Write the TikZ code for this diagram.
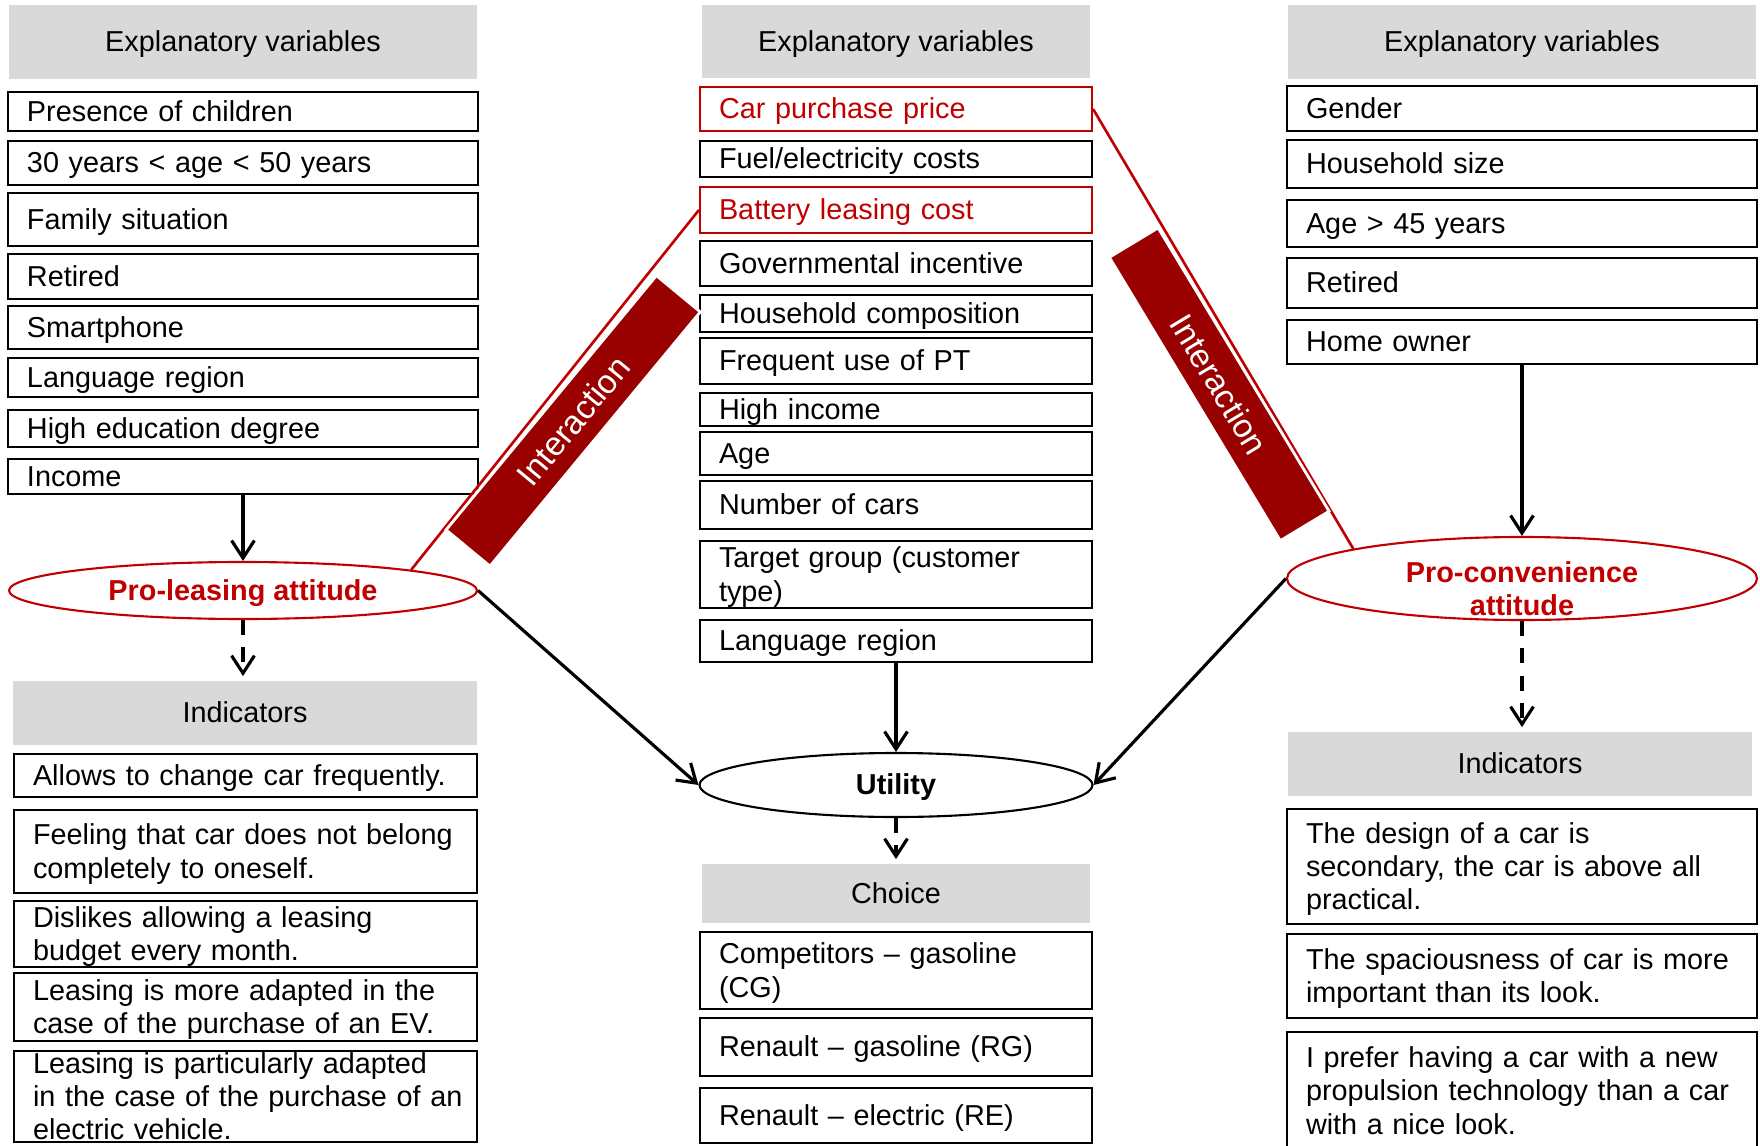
\documentclass[tikz,border=0pt]{standalone}
\usepackage{fontspec}
\setmainfont{Liberation Sans}
\usepackage{xcolor}
\definecolor{hdgray}{RGB}{217,217,217}
\definecolor{keyred}{RGB}{192,0,0}
\definecolor{barred}{RGB}{153,0,0}
\usetikzlibrary{arrows.meta,shapes.geometric}

\begin{document}
\begin{tikzpicture}[
  every node/.style={font=\fontsize{8.2}{9.4}\selectfont},
  strutted/.style={execute at begin node={\rule{0pt}{0.905em}}, execute at end node={\rule[-0.212em]{0pt}{0.212em}}},
  headbox/.style={fill=hdgray, inner sep=0pt, align=center, strutted},
  plainbox/.style={draw=black, line width=0.6pt, inner xsep=0.19cm, inner ysep=0pt, align=left},
  varbox/.style={plainbox, strutted},
  keybox/.style={varbox, draw=keyred, text=keyred},
  lcol/.style={text width=4.32cm},
  icol/.style={inner xsep=0.115cm, text width=4.40cm, execute at begin node={\leftskip=0.075cm}},
  mcol/.style={text width=3.54cm},
  rcol/.style={text width=4.32cm},
  attell/.style={ellipse, draw=keyred, line width=0.6pt, inner sep=0pt, text=keyred, font=\fontsize{8.2}{9.4}\selectfont\bfseries, strutted},
  utilell/.style={ellipse, draw=black, line width=0.6pt, inner sep=0pt, font=\fontsize{8.2}{9.4}\selectfont\bfseries, strutted},
  interbar/.style={fill=barred, draw=white, line width=0.8pt, text=white, inner sep=0pt, minimum height=0.57cm, font=\fontsize{9.5}{11}\selectfont},
  keyline/.style={keyred, line width=0.75pt},
  arr/.style={-{Straight Barb[length=5pt, width=6.5pt]}, line width=0.9pt},
  darr/.style={arr, dash pattern=on 4.2pt off 3.6pt, shorten >=1.2pt}
]
  \useasboundingbox (0,0) rectangle (17.6,-11.46);

  \node[headbox, minimum width=4.67cm, minimum height=0.74cm] (lhead) at (2.43,-0.42) {Explanatory variables};
  \node[varbox, lcol, minimum height=0.39cm] (l1) at (2.43,-1.115) {Presence of children};
  \node[varbox, lcol, minimum height=0.44cm] (l2) at (2.43,-1.63) {30 years < age < 50 years};
  \node[varbox, lcol, minimum height=0.53cm] (l3) at (2.43,-2.195) {Family situation};
  \node[varbox, lcol, minimum height=0.45cm] (l4) at (2.43,-2.765) {Retired};
  \node[varbox, lcol, minimum height=0.43cm] (l5) at (2.43,-3.275) {Smartphone};
  \node[varbox, lcol, minimum height=0.39cm] (l6) at (2.43,-3.775) {Language region};
  \node[varbox, lcol, minimum height=0.37cm] (l7) at (2.43,-4.285) {High education degree};
  \node[varbox, lcol, minimum height=0.35cm] (l8) at (2.43,-4.765) {Income};
  \node[attell, minimum width=4.68cm, minimum height=0.57cm] (pl) at (2.43,-5.905) {Pro-leasing attitude};
  \node[headbox, minimum width=4.64cm, minimum height=0.64cm] (lihead) at (2.45,-7.13) {Indicators};
  \node[varbox, icol, minimum height=0.43cm] (i1) at (2.455,-7.755) {Allows to change car frequently.};
  \node[varbox, icol, minimum height=0.83cm] (i2) at (2.455,-8.515) {Feeling that car does not belong\\completely to oneself.};
  \node[varbox, icol, minimum height=0.64cm] (i3) at (2.455,-9.34) {Dislikes allowing a leasing\\budget every month.};
  \node[varbox, icol, minimum height=0.68cm] (i4) at (2.455,-10.07) {Leasing is more adapted in the\\case of the purchase of an EV.};
  \node[plainbox, icol, minimum height=0.91cm] (i5) at (2.455,-10.965) {Leasing is particularly adapted\\in the case of the purchase of an\\electric vehicle.};

  \node[headbox, minimum width=3.88cm, minimum height=0.73cm] (mhead) at (8.96,-0.415) {Explanatory variables};
  \node[keybox, mcol, minimum height=0.44cm] (m1) at (8.96,-1.09) {Car purchase price};
  \node[varbox, mcol, minimum height=0.36cm] (m2) at (8.96,-1.59) {Fuel/electricity costs};
  \node[keybox, mcol, minimum height=0.46cm] (m3) at (8.96,-2.10) {Battery leasing cost};
  \node[varbox, mcol, minimum height=0.45cm] (m4) at (8.96,-2.635) {Governmental incentive};
  \node[varbox, mcol, minimum height=0.37cm] (m5) at (8.96,-3.135) {Household composition};
  \node[varbox, mcol, minimum height=0.46cm] (m6) at (8.96,-3.61) {Frequent use of PT};
  \node[varbox, mcol, minimum height=0.31cm] (m7) at (8.96,-4.095) {High income};
  \node[varbox, mcol, minimum height=0.43cm] (m8) at (8.96,-4.535) {Age};
  \node[varbox, mcol, minimum height=0.48cm] (m9) at (8.96,-5.05) {Number of cars};
  \node[varbox, mcol, minimum height=0.67cm] (m10) at (8.96,-5.745) {Target group (customer\\type)};
  \node[varbox, mcol, minimum height=0.42cm] (m11) at (8.96,-6.41) {Language region};
  \node[utilell, minimum width=3.93cm, minimum height=0.64cm] (util) at (8.96,-7.85) {Utility};
  \node[headbox, minimum width=3.88cm, minimum height=0.59cm] (chead) at (8.96,-8.935) {Choice};
  \node[varbox, mcol, minimum height=0.77cm] (c1) at (8.96,-9.705) {Competitors -- gasoline\\(CG)};
  \node[varbox, mcol, minimum height=0.58cm] (c2) at (8.96,-10.47) {Renault -- gasoline (RG)};
  \node[varbox, mcol, minimum height=0.55cm] (c3) at (8.96,-11.155) {Renault -- electric (RE)};

  \node[headbox, minimum width=4.68cm, minimum height=0.74cm] (rhead) at (15.22,-0.42) {Explanatory variables};
  \node[varbox, rcol, minimum height=0.45cm] (r1) at (15.22,-1.085) {Gender};
  \node[varbox, rcol, minimum height=0.48cm] (r2) at (15.22,-1.64) {Household size};
  \node[varbox, rcol, minimum height=0.47cm] (r3) at (15.22,-2.235) {Age > 45 years};
  \node[varbox, rcol, minimum height=0.50cm] (r4) at (15.22,-2.83) {Retired};
  \node[varbox, rcol, minimum height=0.44cm] (r5) at (15.22,-3.42) {Home owner};
  \node[attell, minimum width=4.70cm, minimum height=0.83cm] (conv) at (15.22,-5.785) {};
  \node[attell, draw=none, align=center] (convtxt) at ([yshift=-0.13cm]conv.center) {Pro-convenience\\attitude};
  \node[headbox, minimum width=4.64cm, minimum height=0.64cm] (rihead) at (15.20,-7.64) {Indicators};
  \node[varbox, rcol, minimum height=1.15cm] (ri1) at (15.22,-8.665) {The design of a car is\\secondary, the car is above all\\practical.};
  \node[varbox, rcol, minimum height=0.84cm] (ri2) at (15.22,-9.76) {The spaciousness of car is more\\important than its look.};
  \node[varbox, rcol, minimum height=1.18cm] (ri3) at (15.22,-10.91) {I prefer having a car with a new\\propulsion technology than a car\\with a nice look.};

  \draw[keyline] (m3.west) -- (pl.7);
  \draw[keyline] (m1.east) -- (conv.170);
  \node[interbar, minimum width=3.30cm, rotate=50.4] (ibl) at (5.732,-4.209) {Interaction};
  \node[interbar, minimum width=3.31cm, rotate=-58.9] (ibr) at (12.192,-3.843) {Interaction};

  \foreach \a/\b in {l8/pl, m11/util, r5/conv}
    \draw[arr] (\a.south) -- (\b.north);
  \foreach \a/\b in {pl/lihead, util/chead, conv/rihead}
    \draw[darr] (\a.south) -- (\a.south |- \b.north);
  \draw[arr] (pl.east) -- (util.west);
  \draw[arr] (conv.west) -- (util.east);
\end{tikzpicture}
\end{document}
